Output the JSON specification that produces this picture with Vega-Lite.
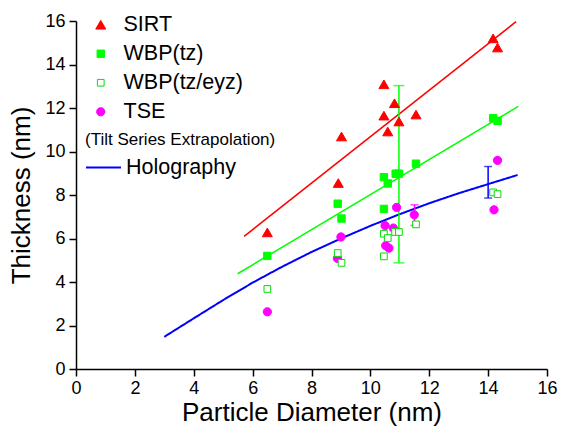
{
  "$schema": "https://vega.github.io/schema/vega-lite/v6.json",
  "width": 471,
  "height": 348,
  "autosize": {"type": "none"},
  "padding": {"left": 76, "top": 21, "right": 14, "bottom": 57},
  "background": "white",
  "config": {
    "view": {"stroke": null},
    "font": "Liberation Sans",
    "axis": {
      "domainColor": "black", "domainWidth": 1.5, "tickColor": "black", "tickWidth": 1.5,
      "labelColor": "black", "labelFont": "Liberation Sans", "labelFontSize": 18,
      "titleFont": "Liberation Sans", "titleFontSize": 26, "titleFontWeight": "normal", "titleColor": "black",
      "grid": false, "labelOverlap": false, "labelFlush": false
    },
    "legend": {"labelFont": "Liberation Sans", "labelFontSize": 21.5, "labelColor": "black", "titleFont": "Liberation Sans"}
  },
  "datasets": {
    "fits": [
      {"fit": "SIRT", "d": 5.71, "t": 6.10}, {"fit": "SIRT", "d": 14.95, "t": 15.97},
      {"fit": "WBP", "d": 5.49, "t": 4.38}, {"fit": "WBP", "d": 15.02, "t": 12.07}
    ],
    "holo": [
      {"method": "Holography", "d": 3, "t": 1.48}, {"method": "Holography", "d": 4, "t": 2.33},
      {"method": "Holography", "d": 5, "t": 3.17}, {"method": "Holography", "d": 6, "t": 3.97},
      {"method": "Holography", "d": 7, "t": 4.70}, {"method": "Holography", "d": 8, "t": 5.38},
      {"method": "Holography", "d": 9, "t": 6.0}, {"method": "Holography", "d": 10, "t": 6.58},
      {"method": "Holography", "d": 11, "t": 7.12}, {"method": "Holography", "d": 12, "t": 7.62},
      {"method": "Holography", "d": 13, "t": 8.08}, {"method": "Holography", "d": 14, "t": 8.5},
      {"method": "Holography", "d": 15, "t": 8.92}
    ],
    "errs": [
      {"kind": "WBP", "d": 10.97, "lo": 4.88, "hi": 13.03},
      {"kind": "TSE", "d": 11.5, "lo": 6.6, "hi": 7.55},
      {"kind": "Holo", "d": 14.0, "lo": 7.86, "hi": 9.31}
    ],
    "points": [
      {"method": "SIRT", "d": 6.5, "t": 6.28}, {"method": "SIRT", "d": 8.91, "t": 8.55},
      {"method": "SIRT", "d": 9.02, "t": 10.69}, {"method": "SIRT", "d": 10.46, "t": 11.65},
      {"method": "SIRT", "d": 10.46, "t": 13.09}, {"method": "SIRT", "d": 10.82, "t": 12.22},
      {"method": "SIRT", "d": 10.59, "t": 10.92}, {"method": "SIRT", "d": 10.97, "t": 11.38},
      {"method": "SIRT", "d": 11.55, "t": 11.7}, {"method": "SIRT", "d": 14.17, "t": 15.2},
      {"method": "SIRT", "d": 14.32, "t": 14.78},
      {"method": "WBP(tz)", "d": 6.5, "t": 5.2}, {"method": "WBP(tz)", "d": 8.89, "t": 7.6},
      {"method": "WBP(tz)", "d": 9.02, "t": 6.92}, {"method": "WBP(tz)", "d": 10.46, "t": 7.36},
      {"method": "WBP(tz)", "d": 10.59, "t": 8.53}, {"method": "WBP(tz)", "d": 10.46, "t": 8.82},
      {"method": "WBP(tz)", "d": 10.86, "t": 8.98}, {"method": "WBP(tz)", "d": 10.97, "t": 8.98},
      {"method": "WBP(tz)", "d": 11.55, "t": 9.44}, {"method": "WBP(tz)", "d": 14.17, "t": 11.53},
      {"method": "WBP(tz)", "d": 14.32, "t": 11.41},
      {"method": "TSE", "d": 6.5, "t": 2.63}, {"method": "TSE", "d": 8.88, "t": 5.09},
      {"method": "TSE", "d": 9.0, "t": 6.07}, {"method": "TSE", "d": 10.89, "t": 7.43},
      {"method": "TSE", "d": 10.5, "t": 6.59}, {"method": "TSE", "d": 10.78, "t": 6.48},
      {"method": "TSE", "d": 10.52, "t": 5.67}, {"method": "TSE", "d": 10.63, "t": 5.56},
      {"method": "TSE", "d": 11.49, "t": 7.09}, {"method": "TSE", "d": 14.32, "t": 9.59},
      {"method": "TSE", "d": 14.2, "t": 7.32},
      {"method": "WBP(tz/eyz)", "d": 6.5, "t": 3.68}, {"method": "WBP(tz/eyz)", "d": 8.89, "t": 5.33},
      {"method": "WBP(tz/eyz)", "d": 9.02, "t": 4.88}, {"method": "WBP(tz/eyz)", "d": 10.46, "t": 6.22},
      {"method": "WBP(tz/eyz)", "d": 10.59, "t": 6.02}, {"method": "WBP(tz/eyz)", "d": 10.84, "t": 6.3},
      {"method": "WBP(tz/eyz)", "d": 10.97, "t": 6.3}, {"method": "WBP(tz/eyz)", "d": 10.46, "t": 5.18},
      {"method": "WBP(tz/eyz)", "d": 11.55, "t": 6.65}, {"method": "WBP(tz/eyz)", "d": 14.17, "t": 8.12},
      {"method": "WBP(tz/eyz)", "d": 14.32, "t": 8.04}
    ]
  },
  "layer": [
    {
      "data": {"name": "fits"},
      "transform": [{"filter": "datum.fit === 'SIRT'"}],
      "mark": {"type": "line", "color": "#FF0000", "strokeWidth": 1.5},
      "encoding": {
        "x": {"field": "d", "type": "quantitative", "title": "Particle Diameter (nm)",
          "scale": {"domain": [0, 16], "nice": false, "zero": true},
          "axis": {"values": [0,1,2,3,4,5,6,7,8,9,10,11,12,13,14,15,16],
            "labelExpr": "datum.value % 2 === 0 ? datum.label : ''",
            "tickSize": {"condition": {"test": "datum.value % 2 === 1", "value": 3.5}, "value": 7},
            "labelPadding": 3, "titlePadding": 2}},
        "y": {"field": "t", "type": "quantitative", "title": "Thickness (nm)",
          "scale": {"domain": [0, 16], "nice": false, "zero": true},
          "axis": {"values": [0,1,2,3,4,5,6,7,8,9,10,11,12,13,14,15,16],
            "labelExpr": "datum.value % 2 === 0 ? datum.label : ''",
            "tickSize": {"condition": {"test": "datum.value % 2 === 1", "value": 3.5}, "value": 7},
            "labelPadding": 4, "titlePadding": 10}}
      }
    },
    {
      "data": {"name": "fits"},
      "transform": [{"filter": "datum.fit === 'WBP'"}],
      "mark": {"type": "line", "color": "#00FF00", "strokeWidth": 1.5},
      "encoding": {
        "x": {"field": "d", "type": "quantitative", "title": "Particle Diameter (nm)", "scale": {"domain": [0, 16], "nice": false}},
        "y": {"field": "t", "type": "quantitative", "title": "Thickness (nm)", "scale": {"domain": [0, 16], "nice": false}}
      }
    },
    {
      "data": {"name": "holo"},
      "mark": {"type": "line", "color": "#0000FF", "strokeWidth": 2},
      "encoding": {
        "x": {"field": "d", "type": "quantitative", "title": "Particle Diameter (nm)", "scale": {"domain": [0, 16], "nice": false}},
        "y": {"field": "t", "type": "quantitative", "title": "Thickness (nm)", "scale": {"domain": [0, 16], "nice": false}},
        "strokeDash": {"field": "method", "type": "nominal",
          "scale": {"domain": ["Holography"], "range": [[1, 0]]},
          "legend": {"orient": "none", "legendX": 9, "legendY": 111,
            "title": "(Tilt Series Extrapolation)", "titleFontSize": 17, "titleFontWeight": "normal",
            "titleColor": "black", "titlePadding": 0, "titleLimit": 400,
            "symbolType": "stroke", "symbolSize": 1225, "symbolStrokeWidth": 2,
            "symbolStrokeColor": "#0000FF", "labelOffset": 4}}
      }
    },
    {
      "data": {"name": "errs"},
      "transform": [{"filter": "datum.kind === 'WBP'"}],
      "mark": {"type": "errorbar", "color": "#00FF00", "ticks": {"size": 11, "thickness": 1.5}, "rule": {"strokeWidth": 1.5}},
      "encoding": {
        "x": {"field": "d", "type": "quantitative", "title": "Particle Diameter (nm)", "scale": {"domain": [0, 16], "nice": false}},
        "y": {"field": "lo", "type": "quantitative", "title": "Thickness (nm)", "scale": {"domain": [0, 16], "nice": false}},
        "y2": {"field": "hi"}
      }
    },
    {
      "data": {"name": "errs"},
      "transform": [{"filter": "datum.kind === 'TSE'"}],
      "mark": {"type": "errorbar", "color": "#FF00FF", "ticks": {"size": 8, "thickness": 1.5}, "rule": {"strokeWidth": 1.5}},
      "encoding": {
        "x": {"field": "d", "type": "quantitative", "title": "Particle Diameter (nm)", "scale": {"domain": [0, 16], "nice": false}},
        "y": {"field": "lo", "type": "quantitative", "title": "Thickness (nm)", "scale": {"domain": [0, 16], "nice": false}},
        "y2": {"field": "hi"}
      }
    },
    {
      "data": {"name": "errs"},
      "transform": [{"filter": "datum.kind === 'Holo'"}],
      "mark": {"type": "errorbar", "color": "#0000FF", "ticks": {"size": 8, "thickness": 1.5}, "rule": {"strokeWidth": 1.5}},
      "encoding": {
        "x": {"field": "d", "type": "quantitative", "title": "Particle Diameter (nm)", "scale": {"domain": [0, 16], "nice": false}},
        "y": {"field": "lo", "type": "quantitative", "title": "Thickness (nm)", "scale": {"domain": [0, 16], "nice": false}},
        "y2": {"field": "hi"}
      }
    },
    {
      "data": {"name": "points"},
      "mark": {"type": "point", "opacity": 1, "strokeWidth": 1},
      "encoding": {
        "x": {"field": "d", "type": "quantitative", "title": "Particle Diameter (nm)", "scale": {"domain": [0, 16], "nice": false}},
        "y": {"field": "t", "type": "quantitative", "title": "Thickness (nm)", "scale": {"domain": [0, 16], "nice": false}},
        "shape": {"field": "method", "type": "nominal",
          "scale": {"domain": ["SIRT", "WBP(tz)", "WBP(tz/eyz)", "TSE"], "range": ["triangle-up", "square", "square", "circle"]},
          "legend": {"orient": "none", "legendX": 14, "legendY": -7, "title": null, "rowPadding": 6, "labelOffset": 12, "symbolStrokeWidth": 1}},
        "fill": {"field": "method", "type": "nominal",
          "scale": {"domain": ["SIRT", "WBP(tz)", "WBP(tz/eyz)", "TSE"], "range": ["#FF0000", "#00FF00", "#FFFFFF", "#FF00FF"]},
          "legend": {"orient": "none", "legendX": 14, "legendY": -7, "title": null, "rowPadding": 6, "labelOffset": 12, "symbolStrokeWidth": 1}},
        "stroke": {"field": "method", "type": "nominal",
          "scale": {"domain": ["SIRT", "WBP(tz)", "WBP(tz/eyz)", "TSE"], "range": ["#FF0000", "#00FF00", "#00E000", "#FF00FF"]},
          "legend": {"orient": "none", "legendX": 14, "legendY": -7, "title": null, "rowPadding": 6, "labelOffset": 12, "symbolStrokeWidth": 1}},
        "size": {"field": "method", "type": "nominal",
          "scale": {"type": "ordinal", "domain": ["SIRT", "WBP(tz)", "WBP(tz/eyz)", "TSE"], "range": [100, 55, 45, 68]},
          "legend": {"orient": "none", "legendX": 14, "legendY": -7, "title": null, "rowPadding": 6, "labelOffset": 12, "symbolStrokeWidth": 1}}
      }
    }
  ]
}
